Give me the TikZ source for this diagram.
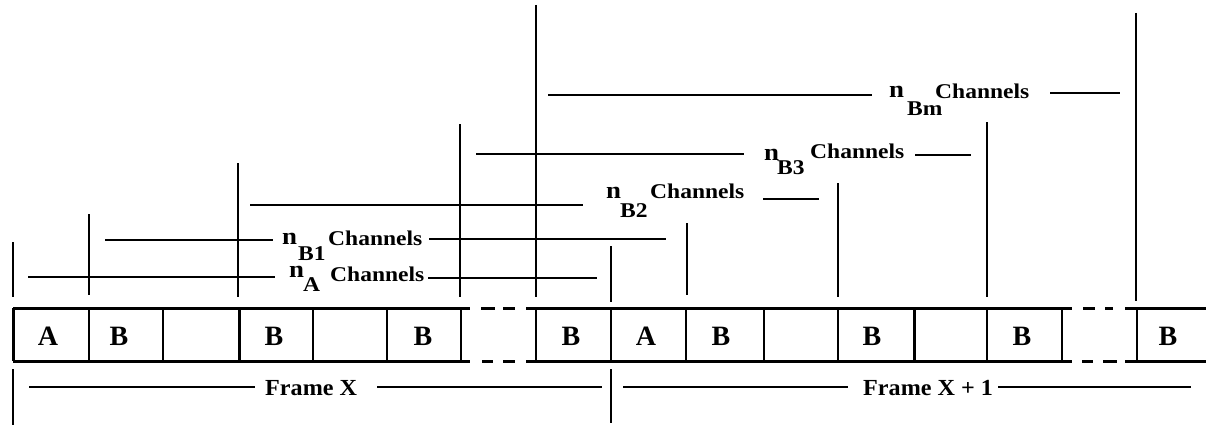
\documentclass[tikz,border=0pt]{standalone}
\usepackage{fontspec}
\newfontfamily\labf[FakeStretch=1.12]{Liberation Serif}
\newfontfamily\framef[FakeStretch=1.05]{Liberation Serif}
\newfontfamily\cellf{Liberation Serif}
\tikzset{
  ln/.style={line width=1.8pt},
  rowln/.style={line width=3pt},
  lblc/.style={inner sep=0pt, anchor=base west, font=\labf\bfseries\fontsize{21}{21}\selectfont},
  lbln/.style={inner sep=0pt, anchor=base west, font=\labf\bfseries\fontsize{24}{24}\selectfont},
  frm/.style={inner sep=0pt, anchor=base west, font=\framef\bfseries\fontsize{23}{23}\selectfont},
  cell/.style={inner sep=0pt, anchor=base, font=\cellf\bfseries\fontsize{28}{28}\selectfont},
}
\begin{document}
\begin{tikzpicture}[x=1pt,y=-1pt]
\useasboundingbox (0,0) rectangle (1206,425);
% frame row: top and bottom lines with dashed gaps
\foreach \y in {308,361}{
  \draw[rowln] (13,\y) -- (470,\y);
  \draw[rowln] (526,\y) -- (1072,\y);
  \draw[rowln] (1125,\y) -- (1206,\y);
}
\draw[rowln] (481,308) -- (495,308) (503,308) -- (515,308);
\draw[rowln] (482,361) -- (493,361) (503,361) -- (515,361);
\draw[rowln] (1083,308) -- (1095,308) (1105,308) -- (1113,308);
\draw[rowln] (1082,361) -- (1093,361) (1103,361) -- (1117,361);
% cell dividers
\draw[rowln] (13,308) -- (13,361);
\foreach \x in {89,163,313,387,461,536,611,686,764,838,987,1062,1137}
  \draw[ln] (\x,308) -- (\x,361);
\draw[rowln] (239,308) -- (239,361);
\draw[rowln] (914,308) -- (914,361);
% cell letters
\node[cell] (c1) at (48,345) {A};
\node[cell] (c2) at (119,345) {B};
\node[cell] (c3) at (274,345) {B};
\node[cell] (c4) at (423,345) {B};
\node[cell] (c5) at (571,345) {B};
\node[cell] (c6) at (646,345) {A};
\node[cell] (c7) at (721,345) {B};
\node[cell] (c8) at (872,345) {B};
\node[cell] (c9) at (1022,345) {B};
\node[cell] (c10) at (1168,345) {B};
% vertical markers above the row
\foreach \x/\t/\b in {13/242/297, 89/214/295, 238/163/297, 460/124/297, 536/5/297,
                      611/246/302, 687/223/295, 838/183/297, 987/122/297, 1136/13/301}
  \draw[ln] (\x,\t) -- (\x,\b);
% vertical markers below the row
\draw[ln] (13,369) -- (13,425);
\draw[ln] (611,369) -- (611,423);
% n_A Channels
\draw[ln] (28,277) -- (275,277);
\node[lbln] (nAn) at (289,277) {n};
\node[lblc] (nAs) at (303,291) {A};
\node[lblc] (nAc) at (330,281) {Channels};
\draw[ln] (428,278) -- (597,278);
% n_B1 Channels
\draw[ln] (105,240) -- (273,240);
\node[lbln] (nB1n) at (282,244) {n};
\node[lblc] (nB1s) at (298,260) {B1};
\node[lblc] (nB1c) at (328,245) {Channels};
\draw[ln] (429,239) -- (666,239);
% n_B2 Channels
\draw[ln] (250,205) -- (583,205);
\node[lbln] (nB2n) at (606,198) {n};
\node[lblc] (nB2s) at (620,217) {B2};
\node[lblc] (nB2c) at (650,198) {Channels};
\draw[ln] (763,199) -- (819,199);
% n_B3 Channels
\draw[ln] (476,154) -- (744,154);
\node[lbln] (nB3n) at (764,160) {n};
\node[lblc] (nB3s) at (777,174) {B3};
\node[lblc] (nB3c) at (810,158) {Channels};
\draw[ln] (915,155) -- (971,155);
% n_Bm Channels
\draw[ln] (548,95) -- (872,95);
\node[lbln] (nBmn) at (889,98) {n};
\node[lblc] (nBms) at (907,115) {Bm};
\node[lblc] (nBmc) at (935,99) {Channels};
\draw[ln] (1050,93) -- (1120,93);
% frame labels
\draw[ln] (29,387) -- (255,387);
\node[frm] (fx) at (265,395) {Frame X};
\draw[ln] (377,387) -- (602,387);
\draw[ln] (623,387) -- (848,387);
\node[frm] (fx1) at (863,395) {Frame X + 1};
\draw[ln] (998,387) -- (1191,387);
\end{tikzpicture}
\end{document}
